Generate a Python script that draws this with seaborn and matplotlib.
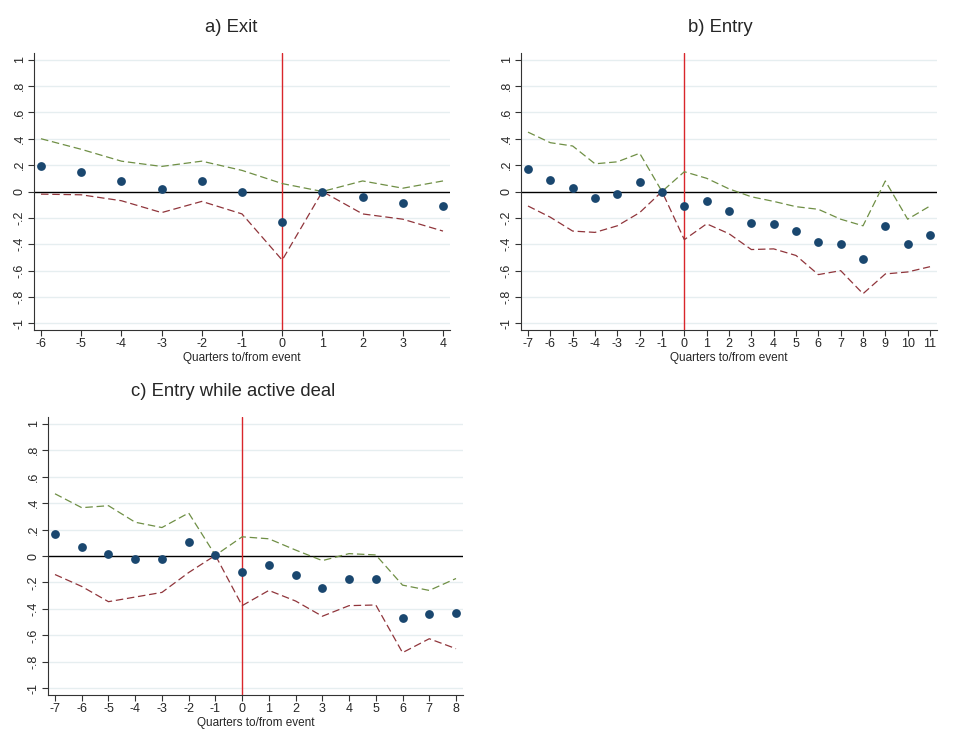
import numpy as np
import pandas as pd
import matplotlib
matplotlib.use("Agg")
import matplotlib.pyplot as plt
import seaborn as sns

# Panel a) Exit
exit_q = list(range(-6, 5))
exit_coef = [0.19, 0.15, 0.08, 0.02, 0.08, 0.00, -0.23, 0.00, -0.04, -0.09, -0.11]
exit_hi = [0.40, 0.32, 0.23, 0.19, 0.23, 0.16, 0.06, 0.00, 0.08, 0.025, 0.08]
exit_lo = [-0.02, -0.025, -0.07, -0.16, -0.075, -0.17, -0.52, 0.00, -0.17, -0.21, -0.30]

# Panel b) Entry
entry_q = list(range(-7, 12))
entry_coef = [0.17, 0.09, 0.03, -0.05, -0.02, 0.07, 0.00, -0.11, -0.07, -0.15,
              -0.24, -0.25, -0.30, -0.38, -0.40, -0.515, -0.26, -0.40, -0.33]
entry_hi = [0.45, 0.37, 0.345, 0.21, 0.225, 0.29, 0.00, 0.15, 0.10, 0.02,
            -0.04, -0.075, -0.115, -0.135, -0.21, -0.26, 0.08, -0.21, -0.11]
entry_lo = [-0.11, -0.195, -0.30, -0.31, -0.26, -0.16, 0.00, -0.365, -0.245, -0.32,
            -0.44, -0.435, -0.485, -0.63, -0.60, -0.775, -0.625, -0.61, -0.57]

# Panel c) Entry while active deal
active_q = list(range(-7, 9))
active_coef = [0.167, 0.07, 0.018, -0.025, -0.025, 0.105, 0.005, -0.12, -0.065, -0.145,
               -0.245, -0.175, -0.175, -0.47, -0.435, -0.43]
active_hi = [0.47, 0.365, 0.38, 0.255, 0.215, 0.325, 0.005, 0.145, 0.13, 0.045,
             -0.035, 0.018, 0.008, -0.22, -0.26, -0.17]
active_lo = [-0.14, -0.23, -0.345, -0.31, -0.275, -0.125, 0.005, -0.375, -0.26, -0.34,
             -0.455, -0.375, -0.37, -0.73, -0.625, -0.70]

y_ticks = [1, 0.8, 0.6, 0.4, 0.2, 0, -0.2, -0.4, -0.6, -0.8, -1]
y_labels = ["1", ".8", ".6", ".4", ".2", "0", "-.2", "-.4", "-.6", "-.8", "-1"]

NAVY = "#1a476f"
GREEN = "#6f8f45"
MAROON = "#90353b"
GRID = "#e6eef0"

sns.set_theme(style="white")
plt.rcParams["font.family"] = ["Liberation Sans", "DejaVu Sans"]

fig = plt.figure(figsize=(9.6, 7.35), dpi=100)


def draw_panel(rect, q, coef, hi, lo, title, title_x, title_y):
    ax = fig.add_axes(rect)
    df = pd.DataFrame({"q": q, "coef": coef, "hi": hi, "lo": lo})
    for t in y_ticks:
        if t != 0:
            ax.axhline(t, color=GRID, lw=1.0, zorder=0)
    ax.axhline(0, color="black", lw=1.0, zorder=1)
    ax.axvline(0, color="#d9262b", lw=1.0, zorder=2)
    sns.lineplot(data=df, x="q", y="hi", ax=ax, color=GREEN, lw=0.9,
                 zorder=3).lines[-1].set_dashes([6, 3])
    sns.lineplot(data=df, x="q", y="lo", ax=ax, color=MAROON, lw=0.9,
                 zorder=3).lines[-1].set_dashes([6, 3])
    sns.scatterplot(data=df, x="q", y="coef", ax=ax, color=NAVY, s=40,
                    edgecolor=NAVY, linewidth=0, zorder=4)
    n = q[-1] - q[0]
    pad = n * 7.0 / (rect[2] * 960 - 14)
    ax.set_xlim(q[0] - pad, q[-1] + pad)
    ax.set_ylim(-1.05, 1.05)
    ax.set_xticks(q)
    ax.set_xticklabels([str(v) for v in q], fontsize=9)
    ax.set_yticks(y_ticks)
    ax.set_yticklabels(y_labels, fontsize=9, rotation=90, va="center")
    ax.tick_params(axis="both", direction="out", length=4, width=0.8,
                   color="#333333", pad=2, left=True, bottom=True)
    ax.set_xlabel("Quarters to/from event", fontsize=8.5, labelpad=1)
    ax.set_ylabel("")
    for side in ["top", "right"]:
        ax.spines[side].set_visible(False)
    for side in ["left", "bottom"]:
        ax.spines[side].set_color("#333333")
        ax.spines[side].set_linewidth(0.8)
    fig.text(title_x / 960, 1 - title_y / 735, title, fontsize=13.3,
             ha="center", va="center")
    return ax


draw_panel([34 / 960, 405 / 735, 416 / 960, 277 / 735],
           exit_q, exit_coef, exit_hi, exit_lo, "a) Exit", 231, 27)
draw_panel([521 / 960, 405 / 735, 416 / 960, 277 / 735],
           entry_q, entry_coef, entry_hi, entry_lo, "b) Entry", 720, 27)
draw_panel([48 / 960, 40 / 735, 415 / 960, 278 / 735],
           active_q, active_coef, active_hi, active_lo,
           "c) Entry while active deal", 233, 392)

fig.savefig("out.png", dpi=100)
